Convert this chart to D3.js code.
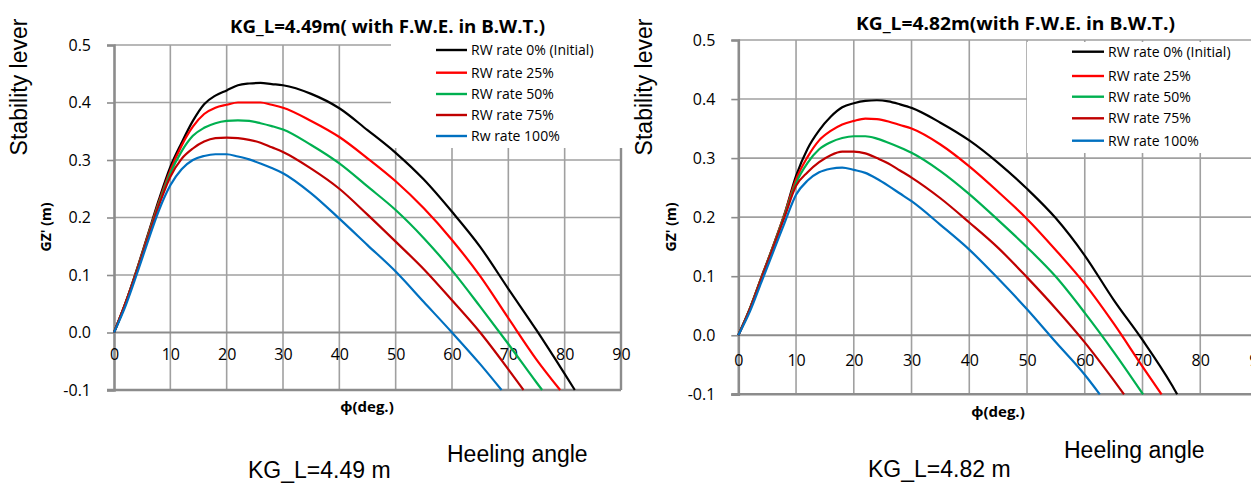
<!DOCTYPE html>
<html>
<head>
<meta charset="utf-8">
<script src="https://cdn.jsdelivr.net/npm/d3@7/dist/d3.min.js"></script>
<style>
  html, body { margin: 0; padding: 0; background: #fff; }
  svg { display: block; }
  text { fill: #000; }
</style>
</head>
<body>
<svg id="chart" width="1251" height="484"></svg>
<script>
// ---------------- DATA ----------------
const angles = [0,2,4,6,8,10,12,14,16,18,20,22,24,26,28,30,35,40,45,50,55,60,65,70,75,80];
const xTicks = [0,10,20,30,40,50,60,70,80,90];
const yTicks = [-0.1,0.0,0.1,0.2,0.3,0.4,0.5];

const leftNames  = ["RW rate 0% (Initial)","RW rate 25%","RW rate 50%","RW rate 75%","Rw rate 100%"];
const rightNames = ["RW rate 0% (Initial)","RW rate 25%","RW rate 50%","RW rate 75%","RW rate 100%"];
const seriesColors = ["#000000","#ff0000","#00b050","#c00000","#0070c0"];

// KG_L = 4.49 m
const left0   = [0,0.05,0.108,0.17,0.232,0.288,0.33,0.368,0.397,0.412,0.421,0.430,0.433,0.434,0.432,0.430,0.415,0.39,0.352,0.3125,0.266,0.21,0.149,0.076,0.004,-0.072];
const left25  = [0,0.05,0.107,0.168,0.228,0.282,0.325,0.358,0.38,0.391,0.396,0.40,0.40,0.40,0.396,0.391,0.368,0.34,0.303,0.263,0.216,0.161,0.098,0.025,-0.047];
const left50  = [0,0.05,0.106,0.166,0.225,0.277,0.315,0.342,0.356,0.364,0.368,0.369,0.368,0.364,0.359,0.353,0.326,0.294,0.254,0.213,0.164,0.108,0.045,-0.02,-0.087];
const left75  = [0,0.05,0.105,0.164,0.222,0.271,0.302,0.32,0.332,0.338,0.339,0.338,0.335,0.33,0.322,0.314,0.285,0.25,0.205,0.158,0.11,0.056,0.0,-0.064];
const left100 = [0,0.045,0.10,0.158,0.213,0.256,0.284,0.30,0.307,0.31,0.31,0.306,0.301,0.294,0.286,0.277,0.242,0.198,0.152,0.106,0.053,0.0,-0.055];
const leftEnd = [81.8,79.2,76.0,72.7,68.8];   // angle where GZ' = -0.1

// KG_L = 4.82 m
const right0   = [0,0.045,0.098,0.15,0.205,0.27,0.316,0.347,0.37,0.386,0.393,0.397,0.398,0.396,0.391,0.385,0.36,0.33,0.292,0.248,0.198,0.135,0.06,-0.008,-0.083];
const right25  = [0,0.045,0.098,0.15,0.205,0.264,0.302,0.33,0.346,0.357,0.363,0.367,0.366,0.362,0.356,0.35,0.323,0.286,0.243,0.197,0.144,0.087,0.02,-0.053];
const right50  = [0,0.045,0.097,0.149,0.203,0.258,0.292,0.315,0.327,0.334,0.337,0.337,0.333,0.326,0.318,0.309,0.278,0.239,0.195,0.149,0.099,0.038,-0.028];
const right75  = [0,0.044,0.096,0.147,0.2,0.253,0.276,0.293,0.305,0.311,0.311,0.308,0.30,0.291,0.279,0.267,0.232,0.191,0.148,0.098,0.045,-0.012,-0.076];
const right100 = [0,0.04,0.09,0.14,0.19,0.238,0.262,0.276,0.282,0.284,0.28,0.275,0.265,0.253,0.24,0.227,0.187,0.145,0.096,0.044,-0.012,-0.067];
const rightEnd = [76.0,73.3,70.1,66.8,62.6];

// ---------------- DRAW ----------------
const svg = d3.select("#chart");
const TICK_FONT = "'Open Sans', 'Noto Sans', sans-serif";
const ARIAL = "'Liberation Sans', Arial, sans-serif";
const fmtY = v => d3.format(".1f")(v).replace("\u2212", "-");

function drawChart(cfg) {
  const x = d3.scaleLinear().domain([0, 90]).range(cfg.xr);
  const y = d3.scaleLinear().domain([-0.1, 0.5]).range(cfg.yr);
  const g = svg.append("g");

  // grid
  g.append("g").selectAll("line.v").data(xTicks.slice(1, -1)).join("line")
    .attr("x1", d => x(d)).attr("x2", d => x(d))
    .attr("y1", y(0.5)).attr("y2", y(-0.1))
    .attr("stroke", "#a0a0a0").attr("stroke-width", 1.6);
  g.append("g").selectAll("line.h").data(yTicks.filter(v => v > -0.1)).join("line")
    .attr("x1", x(0)).attr("x2", x(90))
    .attr("y1", d => y(d)).attr("y2", d => y(d))
    .attr("stroke", d => d === 0 ? "#8c8c8c" : "#a0a0a0")
    .attr("stroke-width", d => d === 0 ? 2 : 1.6);
  // borders
  g.append("line").attr("x1", x(90)).attr("x2", x(90)).attr("y1", y(0.5)).attr("y2", y(-0.1))
    .attr("stroke", "#8c8c8c").attr("stroke-width", 2.4);
  g.append("line").attr("x1", x(0) - 7).attr("x2", x(90)).attr("y1", y(-0.1)).attr("y2", y(-0.1))
    .attr("stroke", "#8c8c8c").attr("stroke-width", 2.4);

  // y axis
  const ya = g.append("g").attr("transform", `translate(${x(0)},0)`)
    .call(d3.axisLeft(y).tickValues(yTicks).tickFormat(fmtY).tickSize(7).tickPadding(cfg.yPad));
  ya.select(".domain").attr("stroke", "#8c8c8c").attr("stroke-width", 2.6);
  ya.selectAll(".tick line").attr("stroke", "#8c8c8c").attr("stroke-width", 1.6);
  ya.selectAll(".tick text").attr("font-family", TICK_FONT).attr("font-size", 16).attr("fill", "#000");

  // x axis labels (at y = 0)
  const xa = g.append("g").attr("transform", `translate(0,${y(0)})`)
    .call(d3.axisBottom(x).tickValues(xTicks).tickFormat(d3.format("d")).tickSize(0).tickPadding(cfg.xPad));
  xa.select(".domain").remove();
  xa.selectAll(".tick text").attr("font-family", TICK_FONT).attr("font-size", 16).attr("fill", "#000");

  // legend box
  g.append("rect").attr("x", cfg.legBox[0]).attr("y", cfg.legBox[1])
    .attr("width", cfg.legBox[2]).attr("height", cfg.legBox[3]).attr("fill", "#fff");

  // curves
  const line = d3.line().x(d => x(d[0])).y(d => y(d[1])).curve(d3.curveMonotoneX);
  cfg.series.forEach((vals, i) => {
    const pts = [];
    vals.forEach((v, k) => { if (angles[k] < cfg.ends[i]) pts.push([angles[k], v]); });
    pts.push([cfg.ends[i], -0.1]);
    g.append("path").datum(pts).attr("d", line)
      .attr("fill", "none").attr("stroke", seriesColors[i]).attr("stroke-width", 2.2)
      .attr("stroke-linejoin", "round");
  });

  // legend
  cfg.names.forEach((n, i) => {
    const yy = cfg.legRows[i];
    g.append("line").attr("x1", cfg.legX[0]).attr("x2", cfg.legX[1]).attr("y1", yy).attr("y2", yy)
      .attr("stroke", seriesColors[i]).attr("stroke-width", 2.4);
    g.append("text").attr("x", cfg.legX[1] + 4).attr("y", yy + 5)
      .attr("font-family", TICK_FONT).attr("font-size", 14).text(n);
  });

  // title
  g.append("text").attr("x", cfg.title[1]).attr("y", cfg.title[2])
    .attr("font-family", TICK_FONT).attr("font-weight", "bold").attr("font-size", 17)
    .attr("textLength", cfg.title[3]).attr("lengthAdjust", "spacingAndGlyphs")
    .text(cfg.title[0]);

  // axis titles
  g.append("text").attr("transform", `translate(${cfg.stab[0]},${cfg.stab[1]}) rotate(-90)`)
    .attr("text-anchor", "middle").attr("font-family", ARIAL).attr("font-size", 23).text("Stability lever");
  g.append("text").attr("transform", `translate(${cfg.gz[0]},${cfg.gz[1]}) rotate(-90)`)
    .attr("text-anchor", "middle").attr("font-family", TICK_FONT).attr("font-weight", "bold")
    .attr("font-size", 14).text("GZ' (m)");
  g.append("text").attr("x", cfg.phi[0]).attr("y", cfg.phi[1])
    .attr("text-anchor", "middle").attr("font-family", TICK_FONT).attr("font-weight", "bold")
    .attr("font-size", 15).text("\u03D5(deg.)");
  g.append("text").attr("x", cfg.kg[1]).attr("y", cfg.kg[2])
    .attr("font-family", ARIAL).attr("font-size", 23).text(cfg.kg[0]);
  g.append("text").attr("x", cfg.heel[0]).attr("y", cfg.heel[1])
    .attr("font-family", ARIAL).attr("font-size", 23).text("Heeling angle");
}

drawChart({
  xr: [114, 621], yr: [390, 45], yPad: 16, xPad: 16,
  series: [left0, left25, left50, left75, left100], ends: leftEnd, names: leftNames,
  legBox: [391, 38, 240, 110], legX: [436, 467], legRows: [50, 72.7, 94, 115, 136],
  title: ["KG_L=4.49m( with F.W.E. in B.W.T.)", 230, 33, 315],
  stab: [27, 87], gz: [51, 227], phi: [367, 412],
  kg: ["KG_L=4.49 m", 248, 478], heel: [447, 462]
});
drawChart({
  xr: [738.3, 1258], yr: [394.3, 40], yPad: 16, xPad: 19,
  series: [right0, right25, right50, right75, right100], ends: rightEnd, names: rightNames,
  legBox: [1027, 42, 230, 111], legX: [1072, 1104], legRows: [51.7, 76, 96.7, 118.3, 140.7],
  title: ["KG_L=4.82m(with F.W.E. in B.W.T.)", 856, 30, 319],
  stab: [652, 87], gz: [676, 227], phi: [998, 417],
  kg: ["KG_L=4.82 m", 868, 477], heel: [1064, 458]
});
</script>
</body>
</html>
